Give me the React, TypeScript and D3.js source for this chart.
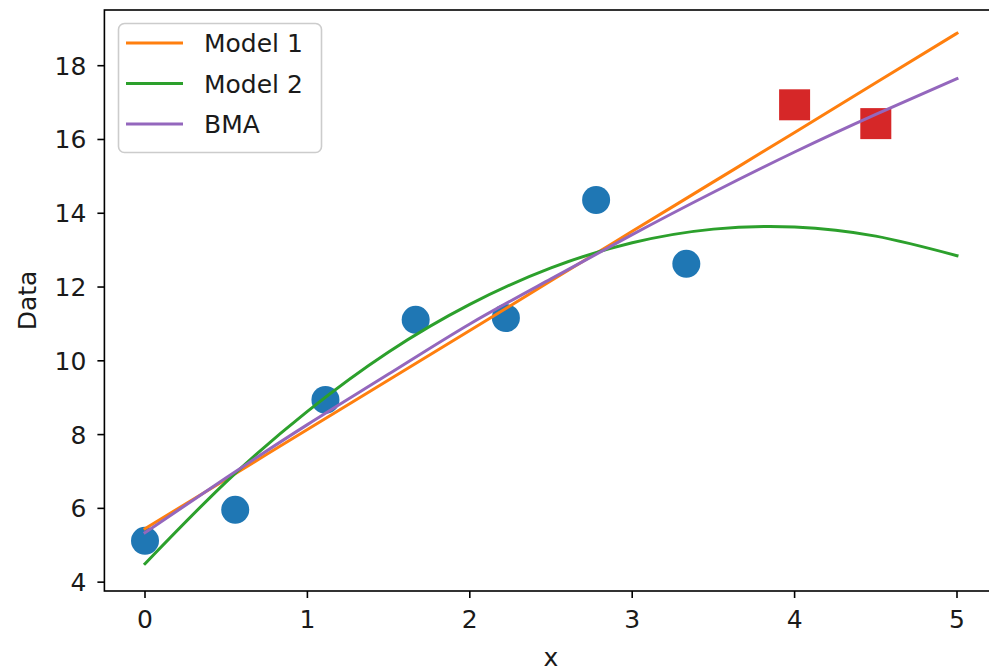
import React from "react";
import * as d3 from "d3";

// observed data
const obsX = [0, 0.5556, 1.1111, 1.6667, 2.2222, 2.7778, 3.3333];
const obsY = [5.12, 5.96, 8.94, 11.11, 11.16, 14.36, 12.63];

// held-out points (squares)
const newX = [4, 4.5];
const newY = [16.94, 16.43];

// model curves, sampled every 0.5
const gridX = [0, 0.5, 1, 1.5, 2, 2.5, 3, 3.5, 4, 4.5, 5];
const model1 = [5.45, 6.79, 8.14, 9.48, 10.82, 12.17, 13.51, 14.85, 16.19, 17.54, 18.88];
const model2 = [4.5, 6.72, 8.63, 10.24, 11.53, 12.52, 13.2, 13.57, 13.63, 13.38, 12.85];
const bma = [5.34, 6.83, 8.27, 9.64, 11.0, 12.22, 13.42, 14.57, 15.66, 16.68, 17.65];

const xTicks = [0, 1, 2, 3, 4, 5];
const yTicks = [4, 6, 8, 10, 12, 14, 16, 18];

const series = [
  { name: "Model 1", values: model1, color: "#ff7f0e" },
  { name: "Model 2", values: model2, color: "#2ca02c" },
  { name: "BMA", values: bma, color: "#9467bd" },
];

const W = 989;
const H = 668;
const left = 104.4;
const right = 997.6;
const top = 10;
const bottom = 591;
const font = "'DejaVu Sans', sans-serif";
const fs = 25;
const textColor = "#1a1a1a";

export default function App() {
  const x = d3.scaleLinear().domain([-0.25, 5.25]).range([left, right]);
  const y = d3.scaleLinear().domain([3.76, 19.51]).range([bottom, top]);

  const line = d3
    .line<number>()
    .x((d, i) => x(gridX[i]))
    .y((d) => y(d))
    .curve(d3.curveNatural);

  return (
    <svg
      width={W}
      height={H}
      style={{ position: "absolute", left: 0, top: 0, background: "#fff" }}
    >
      {/* scatter */}
      {obsX.map((v, i) => (
        <circle key={"o" + i} cx={x(v)} cy={y(obsY[i])} r={14} fill="#1f77b4" />
      ))}
      {newX.map((v, i) => (
        <rect
          key={"n" + i}
          x={x(v) - 15.5}
          y={y(newY[i]) - 15.5}
          width={31}
          height={31}
          fill="#d62728"
        />
      ))}

      {/* model lines */}
      {series.map((s) => (
        <path
          key={s.name}
          d={line(s.values) || ""}
          fill="none"
          stroke={s.color}
          strokeWidth={3}
          strokeLinecap="square"
        />
      ))}

      {/* spines */}
      <rect
        x={left}
        y={top}
        width={right - left}
        height={bottom - top}
        fill="none"
        stroke="#000"
        strokeWidth={1.6}
      />

      {/* x axis */}
      {xTicks.map((t) => (
        <g key={"xt" + t} transform={`translate(${x(t)},${bottom})`}>
          <line y2={7} stroke="#000" strokeWidth={1.6} />
          <text
            y={37}
            textAnchor="middle"
            fontFamily={font}
            fontSize={fs}
            fill={textColor}
          >
            {t}
          </text>
        </g>
      ))}
      <text
        x={(left + right) / 2}
        y={666}
        textAnchor="middle"
        fontFamily={font}
        fontSize={fs}
        fill={textColor}
      >
        x
      </text>

      {/* y axis */}
      {yTicks.map((t) => (
        <g key={"yt" + t} transform={`translate(${left},${y(t)})`}>
          <line x2={-7} stroke="#000" strokeWidth={1.6} />
          <text
            x={-18}
            dy="0.36em"
            textAnchor="end"
            fontFamily={font}
            fontSize={fs}
            fill={textColor}
          >
            {t}
          </text>
        </g>
      ))}
      <text
        transform={`translate(36,${(top + bottom) / 2}) rotate(-90)`}
        textAnchor="middle"
        fontFamily={font}
        fontSize={fs}
        fill={textColor}
      >
        Data
      </text>

      {/* legend */}
      <g>
        <rect
          x={118.5}
          y={23.5}
          width={203}
          height={129}
          rx={6}
          fill="#fff"
          fillOpacity={0.8}
          stroke="#cccccc"
          strokeWidth={1.6}
        />
        {series.map((s, i) => (
          <g key={"lg" + s.name} transform={`translate(0,${43 + i * 40.5})`}>
            <line x1={126} x2={183} stroke={s.color} strokeWidth={3} />
            <text
              x={204}
              dy="0.36em"
              fontFamily={font}
              fontSize={fs}
              fill={textColor}
            >
              {s.name}
            </text>
          </g>
        ))}
      </g>
    </svg>
  );
}
